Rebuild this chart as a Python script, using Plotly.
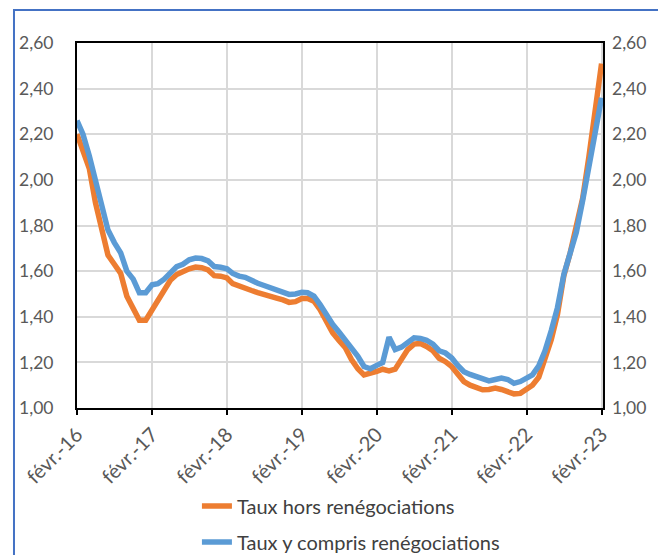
import pandas as pd
import plotly.graph_objects as go

dates = pd.date_range("2016-02-01", periods=85, freq="MS")

taux_hors = [
    2.20, 2.135, 2.05, 1.90, 1.79, 1.67, 1.63, 1.59, 1.49, 1.44,
    1.385, 1.385, 1.43, 1.47, 1.515, 1.56, 1.585, 1.60, 1.61, 1.618,
    1.615, 1.605, 1.58, 1.578, 1.57, 1.545, 1.533, 1.527, 1.515, 1.506,
    1.496, 1.49, 1.482, 1.474, 1.463, 1.466, 1.48, 1.48, 1.468, 1.431,
    1.381, 1.33, 1.296, 1.264, 1.212, 1.172, 1.145, 1.15, 1.16, 1.17,
    1.163, 1.17, 1.212, 1.256, 1.28, 1.283, 1.27, 1.251, 1.218, 1.203,
    1.181, 1.149, 1.116, 1.10, 1.09, 1.08, 1.081, 1.087, 1.081, 1.071,
    1.062, 1.064, 1.083, 1.10, 1.135, 1.21, 1.30, 1.41, 1.58, 1.68,
    1.80, 1.92, 2.10, 2.32, 2.51,
]

taux_y_compris = [
    2.26, 2.20, 2.105, 1.99, 1.88, 1.78, 1.725, 1.68, 1.60, 1.565,
    1.505, 1.505, 1.54, 1.545, 1.565, 1.595, 1.62, 1.63, 1.65, 1.657,
    1.655, 1.645, 1.62, 1.617, 1.61, 1.59, 1.578, 1.573, 1.558, 1.547,
    1.537, 1.528, 1.518, 1.507, 1.498, 1.50, 1.507, 1.505, 1.49, 1.453,
    1.403, 1.367, 1.333, 1.30, 1.264, 1.227, 1.182, 1.172, 1.187, 1.199,
    1.31, 1.256, 1.267, 1.286, 1.308, 1.305, 1.297, 1.28, 1.251, 1.241,
    1.219, 1.188, 1.159, 1.147, 1.137, 1.125, 1.119, 1.125, 1.131, 1.125,
    1.108, 1.116, 1.133, 1.145, 1.185, 1.25, 1.34, 1.44, 1.585, 1.675,
    1.77, 1.91, 2.065, 2.225, 2.36,
]

tick_dates = pd.date_range("2016-02-01", periods=8, freq="12MS")
tick_labels = ["févr.-16", "févr.-17", "févr.-18", "févr.-19",
               "févr.-20", "févr.-21", "févr.-22", "févr.-23"]
y_ticks = [1.0, 1.2, 1.4, 1.6, 1.8, 2.0, 2.2, 2.4, 2.6]

FONT = "Lato"
TXT = "#595959"

fig = go.Figure()
fig.add_trace(go.Scatter(
    x=dates, y=taux_hors, mode="lines", name="Taux hors renégociations",
    line=dict(color="#ED7D31", width=5.5), legendgroup="a",
))
fig.add_trace(go.Scatter(
    x=dates, y=taux_y_compris, mode="lines", name="Taux y compris renégociations",
    line=dict(color="#5B9BD5", width=5.5), legendgroup="b",
))
# invisible trace to activate the right axis
fig.add_trace(go.Scatter(
    x=[dates[0], dates[-1]], y=[1.0, 2.6], yaxis="y2", mode="lines",
    line=dict(width=0), opacity=0, showlegend=False, hoverinfo="skip",
))

# the page body adds an 8px offset; figure is sized to fit the 666x555 window
fig.update_layout(
    width=658, height=547,
    margin=dict(l=69, r=63, t=35, b=147, autoexpand=False),
    paper_bgcolor="white", plot_bgcolor="white",
    separators=", ",
    font=dict(family=FONT, size=17, color=TXT),
    xaxis=dict(
        range=[pd.Timestamp("2016-02-01"), pd.Timestamp("2023-02-08")],
        tickvals=tick_dates, ticktext=tick_labels, tickangle=-45,
        showgrid=True, gridcolor="#d9d9d9", gridwidth=1.5,
        showline=True, linecolor="black", linewidth=2, mirror=True,
        ticks="outside", ticklen=5, tickcolor="black", tickwidth=1.5,
        tickfont=dict(family=FONT, size=20, color=TXT),
        zeroline=False, automargin=False,
    ),
    yaxis=dict(
        range=[1.0, 2.6], tickvals=y_ticks, tickformat=".2f",
        showgrid=True, gridcolor="#d9d9d9", gridwidth=1.5,
        showline=True, linecolor="black", linewidth=2, mirror=True,
        ticks="", ticklabelstandoff=18,
        tickfont=dict(family=FONT, size=17.5, color=TXT),
        zeroline=False, automargin=False,
    ),
    yaxis2=dict(
        range=[1.0, 2.6], tickvals=y_ticks, tickformat=".2f",
        overlaying="y", side="right",
        showgrid=False, showline=False, ticks="", ticklabelstandoff=8,
        tickfont=dict(family=FONT, size=17.5, color=TXT),
        zeroline=False, automargin=False,
    ),
    legend=dict(
        x=0.228, y=-0.215, xanchor="left", yanchor="top",
        orientation="v", traceorder="grouped", tracegroupgap=7,
        font=dict(family=FONT, size=20, color="#404040"),
        bgcolor="rgba(0,0,0,0)",
    ),
    shapes=[dict(
        type="rect", xref="paper", yref="paper",
        x0=-0.1198, x1=1.2, y0=-0.5, y1=398 / 365,
        line=dict(color="#4472C4", width=2), fillcolor="rgba(0,0,0,0)",
        layer="below",
    )],
)

fig.write_html("out.html")
